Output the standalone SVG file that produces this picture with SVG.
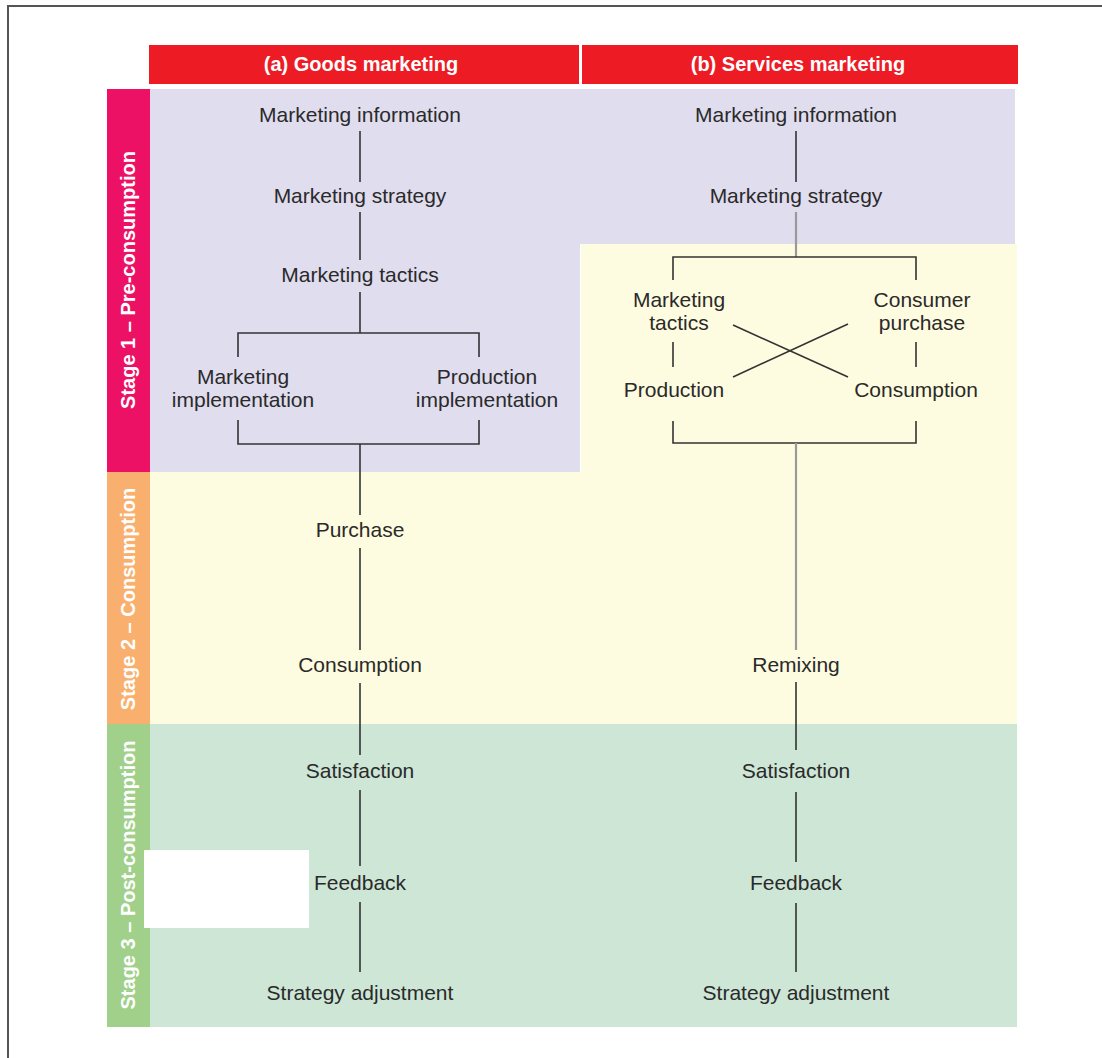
<svg xmlns="http://www.w3.org/2000/svg" width="1102" height="1058" viewBox="0 0 1102 1058">
  <style>
    .lbl { font-family: "Liberation Sans", Arial, sans-serif; font-size: 21px; fill: #2a2a2a; text-anchor: middle; }
    .hdr { font-family: "Liberation Sans", Arial, sans-serif; font-size: 20px; font-weight: bold; fill: #ffffff; text-anchor: middle; }
    .stg { font-family: "Liberation Sans", Arial, sans-serif; font-size: 20px; font-weight: bold; fill: #ffffff; text-anchor: middle; }
    .ln { stroke: #333333; stroke-width: 1.6; fill: none; }
    .lg { stroke: #9a9a9a; stroke-width: 2.2; fill: none; }
  </style>

  <!-- page frame -->
  <rect x="0" y="0" width="1102" height="1058" fill="#ffffff"/>
  <rect x="8" y="6" width="1110" height="1070" fill="none" stroke="#555555" stroke-width="2"/>

  <!-- column headers -->
  <g id="header-goods">
    <rect x="149" y="45" width="430" height="39" fill="#ED1C24"/>
    <text class="hdr" x="361" y="71">(a) Goods marketing</text>
  </g>
  <g id="header-services">
    <rect x="582" y="45" width="436" height="39" fill="#ED1C24"/>
    <text class="hdr" x="798" y="71">(b) Services marketing</text>
  </g>

  <!-- stage bands -->
  <rect x="150" y="89" width="430" height="383" fill="#E0DDEE"/>
  <rect x="580" y="89" width="435" height="155" fill="#E0DDEE"/>
  <rect x="581" y="244" width="436" height="229" fill="#FEFCE0"/>
  <rect x="150" y="472" width="867" height="252" fill="#FEFCE0"/>
  <rect x="150" y="724" width="867" height="303" fill="#CDE6D6"/>

  <g id="stage-1">
    <rect x="107" y="89" width="43" height="383" fill="#EC1164"/>
    <text class="stg" transform="translate(135,280) rotate(-90)">Stage 1 – Pre-consumption</text>
  </g>
  <g id="stage-2">
    <rect x="107" y="472" width="43" height="252" fill="#F9B06E"/>
    <text class="stg" transform="translate(135,599) rotate(-90)">Stage 2 – Consumption</text>
  </g>
  <g id="stage-3">
    <rect x="107" y="724" width="43" height="303" fill="#A0D08A"/>
    <text class="stg" transform="translate(135,875) rotate(-90)">Stage 3 – Post-consumption</text>
  </g>

  <!-- connectors -->
  <g id="connectors">
    <!-- goods column -->
    <line class="ln" x1="360" y1="131" x2="360" y2="182"/>
    <line class="ln" x1="360" y1="212" x2="360" y2="260"/>
    <polyline class="ln" points="360,292 360,333"/>
    <polyline class="ln" points="238,357 238,333 479,333 479,357"/>
    <polyline class="ln" points="238,420 238,444 479,444 479,420"/>
    <line class="ln" x1="360" y1="444" x2="360" y2="515"/>
    <line class="ln" x1="360" y1="548" x2="360" y2="650"/>
    <line class="ln" x1="360" y1="683" x2="360" y2="755"/>
    <line class="ln" x1="360" y1="790" x2="360" y2="866"/>
    <line class="ln" x1="360" y1="902" x2="360" y2="972"/>

    <!-- services column -->
    <line class="ln" x1="796" y1="131" x2="796" y2="182"/>
    <line class="lg" x1="796" y1="212" x2="796" y2="257"/>
    <polyline class="ln" points="673,280 673,257 916,257 916,280"/>
    <line class="ln" x1="673" y1="342" x2="673" y2="367"/>
    <line class="ln" x1="916" y1="342" x2="916" y2="367"/>
    <line class="ln" x1="733" y1="325" x2="848" y2="377"/>
    <line class="ln" x1="733" y1="377" x2="848" y2="324"/>
    <polyline class="ln" points="673,421 673,443 916,443 916,421"/>
    <line class="lg" x1="796" y1="443" x2="796" y2="650"/>
    <line class="ln" x1="796" y1="682" x2="796" y2="750"/>
    <line class="ln" x1="796" y1="792" x2="796" y2="862"/>
    <line class="ln" x1="796" y1="903" x2="796" y2="972"/>
  </g>

  <!-- goods marketing nodes -->
  <g id="g-info"><text class="lbl" x="360" y="122">Marketing information</text></g>
  <g id="g-strategy"><text class="lbl" x="360" y="203">Marketing strategy</text></g>
  <g id="g-tactics"><text class="lbl" x="360" y="282">Marketing tactics</text></g>
  <g id="g-mkt-impl"><text class="lbl" x="243" y="384">Marketing</text><text class="lbl" x="243" y="407">implementation</text></g>
  <g id="g-prod-impl"><text class="lbl" x="487" y="384">Production</text><text class="lbl" x="487" y="407">implementation</text></g>
  <g id="g-purchase"><text class="lbl" x="360" y="537">Purchase</text></g>
  <g id="g-consumption"><text class="lbl" x="360" y="672">Consumption</text></g>
  <g id="g-satisfaction"><text class="lbl" x="360" y="778">Satisfaction</text></g>
  <g id="g-feedback"><text class="lbl" x="360" y="890">Feedback</text></g>
  <g id="g-adjust"><text class="lbl" x="360" y="1000">Strategy adjustment</text></g>

  <!-- services marketing nodes -->
  <g id="s-info"><text class="lbl" x="796" y="122">Marketing information</text></g>
  <g id="s-strategy"><text class="lbl" x="796" y="203">Marketing strategy</text></g>
  <g id="s-tactics"><text class="lbl" x="679" y="307">Marketing</text><text class="lbl" x="679" y="330">tactics</text></g>
  <g id="s-purchase"><text class="lbl" x="922" y="307">Consumer</text><text class="lbl" x="922" y="330">purchase</text></g>
  <g id="s-production"><text class="lbl" x="674" y="397">Production</text></g>
  <g id="s-consumption"><text class="lbl" x="916" y="397">Consumption</text></g>
  <g id="s-remixing"><text class="lbl" x="796" y="672">Remixing</text></g>
  <g id="s-satisfaction"><text class="lbl" x="796" y="778">Satisfaction</text></g>
  <g id="s-feedback"><text class="lbl" x="796" y="890">Feedback</text></g>
  <g id="s-adjust"><text class="lbl" x="796" y="1000">Strategy adjustment</text></g>

  <!-- blank patch -->
  <rect x="144" y="850" width="165" height="78" fill="#ffffff"/>
</svg>
